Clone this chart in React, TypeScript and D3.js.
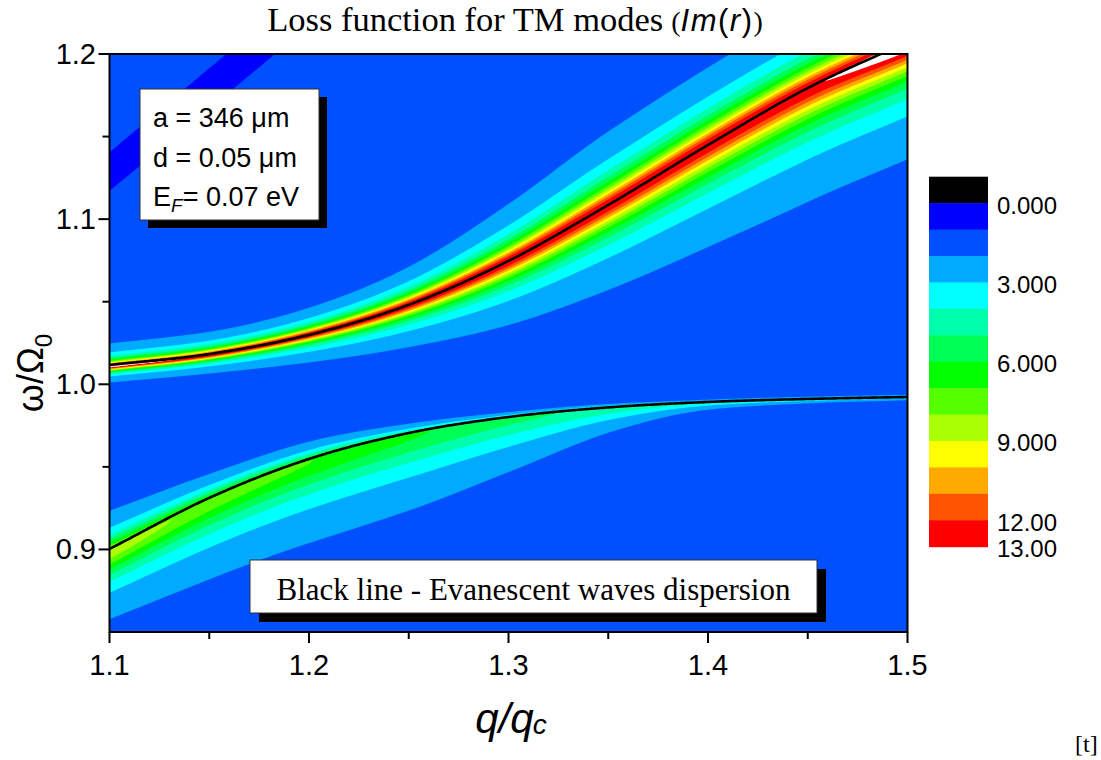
import React, { useMemo } from "react";
import * as d3 from "d3";

const WIDTH = 1101;
const HEIGHT = 760;
const PLOT = { left: 109.5, right: 907.5, top: 54, bottom: 632 };

const Q_RANGE: [number, number] = [1.1, 1.5];
const OMEGA_RANGE: [number, number] = [0.85, 1.2];

const xMajorTicks = [1.1, 1.2, 1.3, 1.4, 1.5];
const xMinorTicks = [1.15, 1.25, 1.35, 1.45];
const yMajorTicks = [0.9, 1.0, 1.1, 1.2];
const yMinorTicks = [0.95, 1.05, 1.15];

// q/qc positions where the branch parameters are given
const qSamples = [1.1, 1.15, 1.2, 1.25, 1.3, 1.35, 1.4, 1.45, 1.5];

// upper branch: evanescent-wave dispersion, peak of Im(r), offset of the peak,
// and reach of the level-2 contour above / below the peak (in ω/Ω0)
const upperOmega = [1.0117, 1.0183, 1.0299, 1.0481, 1.0747, 1.1086, 1.1449, 1.1794, 1.2073];
const upperPeak = [13.3, 12.95, 12.9, 12.9, 12.9, 12.9, 12.9, 12.95, 13.7];
const upperShift = [-0.0012, -0.0006, 0, 0, 0, 0, 0, -0.0006, -0.0015];
const upperReachUp = [0.0139, 0.0139, 0.0163, 0.023, 0.0345, 0.0445, 0.047, 0.048, 0.049];
const upperReachDown = [0.0091, 0.0109, 0.0163, 0.0254, 0.0388, 0.0515, 0.0618, 0.0684, 0.0696];

// lower branch
const lowerOmega = [0.9003, 0.9312, 0.9548, 0.9705, 0.9802, 0.986, 0.9893, 0.9911, 0.9923];
const lowerPeak = [8.5, 7.7, 7.0, 6.1, 5.2, 4.6, 4.2, 4.0, 3.8];
const lowerShift = [-0.0025, -0.002, -0.0015, -0.001, -0.0005, 0, 0, 0, 0];
const lowerReachUp = [0.0254, 0.0163, 0.0115, 0.0061, 0.003, 0.0018, 0.0012, 0.0012, 0.0012];
const lowerReachDown = [0.04, 0.0472, 0.049, 0.0448, 0.0309, 0.0139, 0.0042, 0.0024, 0.0018];

// shallow minimum running into the upper-left corner
const dipQ = [1.1, 1.2];
const dipOmega = [1.1286, 1.2295];
const DIP_DEPTH = 0.5;
const DIP_HALF_WIDTH = 0.0127;

const BACKGROUND = 1.25;

const contourLevels = [1, 2, 3, 4, 5, 6, 7, 8, 9, 10, 11, 12, 13];
// fill of the interval [k, k+1) for k = 0..12
const levelColors = [
  "#0000FF", "#0050FF", "#00AAFF", "#00FFFF", "#00FFAA", "#00FF55", "#00FF00",
  "#55FF00", "#AAFF00", "#FFFF00", "#FFAA00", "#FF5500", "#FF0000",
];
const OVER_COLOR = "#FFFFFF";
const colorbarColors = ["#000000", ...levelColors];
const colorbarTickValues = [0, 3, 6, 9, 12, 13];
const colorbarTickLabels = ["0.000", "3.000", "6.000", "9.000", "12.00", "13.00"];

function monotone(xs: number[], ys: number[]) {
  const n = xs.length;
  const h: number[] = [];
  const s: number[] = [];
  for (let i = 0; i < n - 1; i++) {
    h.push(xs[i + 1] - xs[i]);
    s.push((ys[i + 1] - ys[i]) / h[i]);
  }
  const m: number[] = new Array(n);
  m[0] = s[0];
  m[n - 1] = s[n - 2];
  for (let i = 1; i < n - 1; i++) {
    if (s[i - 1] * s[i] <= 0) m[i] = 0;
    else {
      const p = (s[i - 1] * h[i] + s[i] * h[i - 1]) / (h[i - 1] + h[i]);
      m[i] =
        (Math.sign(s[i - 1]) + Math.sign(s[i])) *
        Math.min(Math.abs(s[i - 1]), Math.abs(s[i]), 0.5 * Math.abs(p));
    }
  }
  return (x: number) => {
    let k = 0;
    if (x >= xs[n - 1]) k = n - 2;
    else if (x > xs[0]) while (k < n - 2 && x > xs[k + 1]) k++;
    const t = (x - xs[k]) / h[k];
    const t2 = t * t;
    const t3 = t2 * t;
    return (
      (2 * t3 - 3 * t2 + 1) * ys[k] +
      (t3 - 2 * t2 + t) * h[k] * m[k] +
      (-2 * t3 + 3 * t2) * ys[k + 1] +
      (t3 - t2) * h[k] * m[k + 1]
    );
  };
}

const upperLine = monotone(qSamples, upperOmega);
const lowerLine = monotone(qSamples, lowerOmega);

function branch(peak: number[], shift: number[], up: number[], down: number[], line: (q: number) => number) {
  const fPeak = monotone(qSamples, peak);
  const fShift = monotone(qSamples, shift);
  const fUp = monotone(qSamples, up);
  const fDown = monotone(qSamples, down);
  return (q: number) => {
    const amp = fPeak(q) - BACKGROUND;
    const k = Math.sqrt(Math.max(amp / (2 - BACKGROUND) - 1, 1e-6));
    return { center: line(q) + fShift(q), amp, wUp: fUp(q) / k, wDown: fDown(q) / k };
  };
}

const upperBranch = branch(upperPeak, upperShift, upperReachUp, upperReachDown, upperLine);
const lowerBranch = branch(lowerPeak, lowerShift, lowerReachUp, lowerReachDown, lowerLine);
const dipLine = monotone(dipQ, dipOmega);

const xScale = d3.scaleLinear().domain(Q_RANGE).range([PLOT.left, PLOT.right]);
const yScale = d3.scaleLinear().domain(OMEGA_RANGE).range([PLOT.bottom, PLOT.top]);
const cbScale = d3.scaleLinear().domain([-1, 13]).range([176.7, 546.7]);

const NX = 798;
const NY = 578;

function lorentz(d: number, w: number) {
  const r = d / w;
  return 1 / (1 + r * r);
}

export default function App() {
  const layers = useMemo(() => {
    const values = new Float64Array(NX * NY);
    for (let i = 0; i < NX; i++) {
      const q = Q_RANGE[0] + ((i + 0.5) / NX) * (Q_RANGE[1] - Q_RANGE[0]);
      const ub = upperBranch(q);
      const lb = lowerBranch(q);
      const dc = dipLine(q);
      for (let j = 0; j < NY; j++) {
        const w = OMEGA_RANGE[1] - ((j + 0.5) / NY) * (OMEGA_RANGE[1] - OMEGA_RANGE[0]);
        const du = w - ub.center;
        const dl = w - lb.center;
        let v = BACKGROUND;
        v += ub.amp * lorentz(du, du > 0 ? ub.wUp : ub.wDown);
        v += lb.amp * lorentz(dl, dl > 0 ? lb.wUp : lb.wDown);
        v -= DIP_DEPTH * lorentz(w - dc, DIP_HALF_WIDTH);
        values[j * NX + i] = v;
      }
    }
    const contours = d3.contours().size([NX, NY]).thresholds(contourLevels)(Array.from(values));
    const path = d3.geoPath();
    return contours.map((c) => ({
      value: c.value,
      d: path(c as any) || "",
      fill: c.value >= 13 ? OVER_COLOR : levelColors[c.value],
    }));
  }, []);

  const qLine = d3.range(0, 401).map((k) => Q_RANGE[0] + (k / 400) * (Q_RANGE[1] - Q_RANGE[0]));
  const upperPath = d3.line<number>().x((q) => xScale(q)).y((q) => yScale(upperLine(q)))(qLine) || "";
  const lowerPath = d3.line<number>().x((q) => xScale(q)).y((q) => yScale(lowerLine(q)))(qLine) || "";

  const sx = (PLOT.right - PLOT.left) / NX;
  const sy = (PLOT.bottom - PLOT.top) / NY;
  const sans = "'Liberation Sans', Arial, sans-serif";
  const serif = "'Liberation Serif', 'Times New Roman', serif";

  return (
    <svg
      width={WIDTH}
      height={HEIGHT}
      viewBox={`0 0 ${WIDTH} ${HEIGHT}`}
      style={{ position: "absolute", left: 0, top: 0, background: "#fff" }}
    >
      <defs>
        <clipPath id="plotClip">
          <rect x={PLOT.left} y={PLOT.top} width={PLOT.right - PLOT.left} height={PLOT.bottom - PLOT.top} />
        </clipPath>
      </defs>
      <rect width={WIDTH} height={HEIGHT} fill="#fff" />

      <g clipPath="url(#plotClip)">
        <rect
          x={PLOT.left}
          y={PLOT.top}
          width={PLOT.right - PLOT.left}
          height={PLOT.bottom - PLOT.top}
          fill={levelColors[0]}
        />
        <g transform={`translate(${PLOT.left},${PLOT.top}) scale(${sx},${sy})`}>
          {layers.map((l) => (
            <path key={l.value} d={l.d} fill={l.fill} stroke="none" />
          ))}
        </g>
        <path d={upperPath} fill="none" stroke="#000" strokeWidth={2.6} />
        <path d={lowerPath} fill="none" stroke="#000" strokeWidth={2.6} />
      </g>

      {/* frame */}
      <rect
        x={PLOT.left}
        y={PLOT.top}
        width={PLOT.right - PLOT.left}
        height={PLOT.bottom - PLOT.top}
        fill="none"
        stroke="#000"
        strokeWidth={2}
      />

      {/* x axis ticks */}
      {xMajorTicks.map((t) => (
        <line key={"xM" + t} x1={xScale(t)} x2={xScale(t)} y1={PLOT.bottom} y2={PLOT.bottom + 11} stroke="#000" strokeWidth={2} />
      ))}
      {xMinorTicks.map((t) => (
        <line key={"xm" + t} x1={xScale(t)} x2={xScale(t)} y1={PLOT.bottom} y2={PLOT.bottom + 7} stroke="#000" strokeWidth={2} />
      ))}
      {xMajorTicks.map((t) => (
        <text key={"xl" + t} x={xScale(t)} y={675} textAnchor="middle" fontFamily={sans} fontSize={29}>
          {t.toFixed(1)}
        </text>
      ))}

      {/* y axis ticks */}
      {yMajorTicks.map((t) => (
        <line key={"yM" + t} x1={PLOT.left - 11} x2={PLOT.left} y1={yScale(t)} y2={yScale(t)} stroke="#000" strokeWidth={2} />
      ))}
      {yMinorTicks.map((t) => (
        <line key={"ym" + t} x1={PLOT.left - 7} x2={PLOT.left} y1={yScale(t)} y2={yScale(t)} stroke="#000" strokeWidth={2} />
      ))}
      {yMajorTicks.map((t) => (
        <text key={"yl" + t} x={96} y={yScale(t) + 10} textAnchor="end" fontFamily={sans} fontSize={29}>
          {t.toFixed(1)}
        </text>
      ))}

      {/* axis titles */}
      <text x={511} y={733} textAnchor="middle" fontFamily={sans} fontStyle="italic" fontSize={42}>
        q/q
        <tspan fontSize={28} dx={-1} dy={1}>c</tspan>
      </text>
      <text transform="translate(43,373) rotate(-90)" textAnchor="middle" fontFamily={sans} fontSize={36}>
        ω/Ω
        <tspan fontSize={24} dy={9}>0</tspan>
      </text>

      {/* title */}
      <text x={515} y={31} textAnchor="middle" fontFamily={serif} fontSize={34.5}>
        Loss function for TM modes
        <tspan fontSize={28} dx={8}>(</tspan>
        <tspan fontFamily={sans} fontStyle="italic" fontSize={31} letterSpacing={1.5}>Im</tspan>
        <tspan fontFamily={sans} fontSize={31} letterSpacing={1.5}>(</tspan>
        <tspan fontFamily={sans} fontStyle="italic" fontSize={31} letterSpacing={1.5}>r</tspan>
        <tspan fontFamily={sans} fontSize={31} letterSpacing={1.5}>)</tspan>
        <tspan fontSize={28}>)</tspan>
      </text>

      {/* parameter box */}
      <rect x={148} y={97} width={179} height={131} fill="#000" />
      <rect x={140} y={89} width={179} height={131} fill="#fff" stroke="#333" strokeWidth={1} />
      <g fontFamily={sans} fontSize={27}>
        <text x={153} y={127}>a = 346 μm</text>
        <text x={153} y={167}>d = 0.05 μm</text>
        <text x={153} y={206}>
          E<tspan fontSize={19} fontStyle="italic" dy={6}>F</tspan>
          <tspan dy={-6}>= 0.07 eV</tspan>
        </text>
      </g>

      {/* line legend box */}
      <rect x={259} y={569} width={567} height={53} fill="#000" />
      <rect x={250} y={560} width={567} height={53} fill="#fff" stroke="#333" strokeWidth={1} />
      <text x={533.5} y={600} textAnchor="middle" fontFamily={serif} fontSize={31}>
        Black line - Evanescent waves dispersion
      </text>

      {/* colour bar */}
      {colorbarColors.map((c, k) => (
        <rect key={"cb" + k} x={929} y={cbScale(k - 1)} width={59} height={cbScale(k) - cbScale(k - 1) + 0.5} fill={c} />
      ))}
      {colorbarTickValues.map((v, k) => (
        <text key={"cbl" + v} x={997} y={cbScale(v) + 10.5} fontFamily={sans} fontSize={24}>
          {colorbarTickLabels[k]}
        </text>
      ))}

      <text x={1075} y={752} fontFamily={serif} fontSize={24}>[t]</text>
    </svg>
  );
}
